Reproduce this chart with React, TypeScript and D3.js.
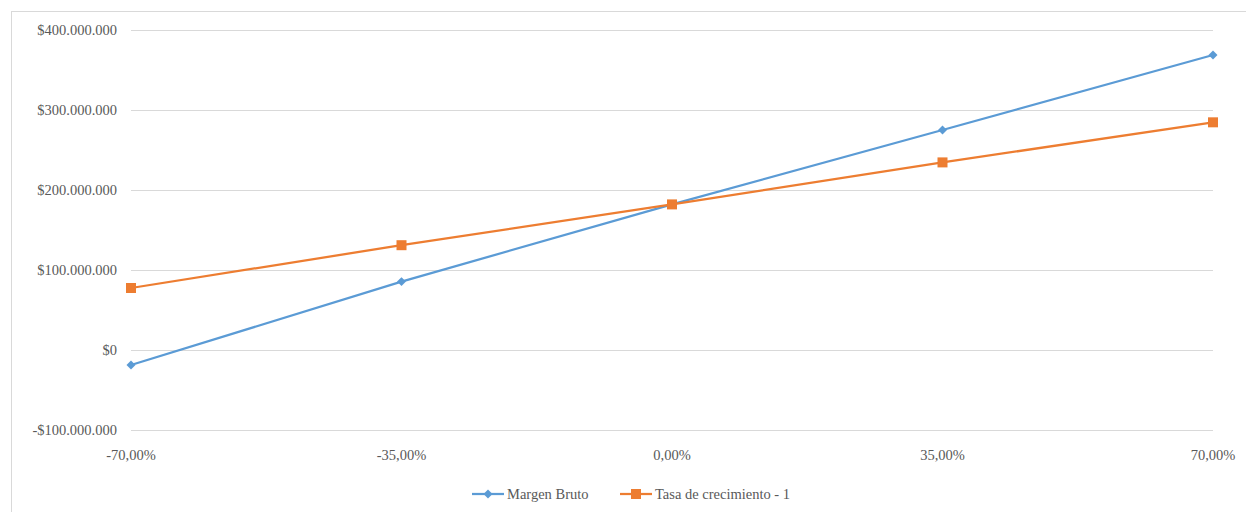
import * as d3 from 'd3';
import { useEffect, useRef } from 'react';

const categories = ['-70,00%', '-35,00%', '0,00%', '35,00%', '70,00%'];
const margenBruto = [-18.8e6, 85.5e6, 182e6, 275e6, 368.8e6];
const tasaCrecimiento = [77.5e6, 131e6, 182e6, 234.5e6, 284.6e6];
const yTicks = [-100e6, 0, 100e6, 200e6, 300e6, 400e6];
const seriesNames = ['Margen Bruto', 'Tasa de crecimiento  - 1'];

const fmtMoney = (v: number) => {
    const s = d3.format(',.0f')(Math.abs(v)).replace(/,/g, '.');
    return (v < 0 ? '-$' : '$') + s;
};

export default function App() {
    const ref = useRef<SVGSVGElement | null>(null);

    useEffect(() => {
        const svg = d3.select(ref.current);
        svg.selectAll('*').remove();

        const width = 1246;
        const height = 512;
        const font = "'Liberation Serif', 'Times New Roman', 'DejaVu Serif', serif";
        const textColor = '#595959';

        svg.attr('width', width).attr('height', height)
            .style('font-family', font);

        // outer chart frame
        svg.append('rect')
            .attr('x', 11.5).attr('y', 11.5)
            .attr('width', 1300).attr('height', 600)
            .attr('fill', '#fff')
            .attr('stroke', '#d9d9d9');

        const x = d3.scalePoint<string>()
            .domain(categories)
            .range([131, 1213]);

        const y = d3.scaleLinear()
            .domain([-100e6, 400e6])
            .range([430, 30]);

        // gridlines
        svg.append('g')
            .selectAll('line')
            .data(yTicks)
            .enter()
            .append('line')
            .attr('x1', 131).attr('x2', 1213)
            .attr('y1', d => Math.round(y(d)) + 0.5)
            .attr('y2', d => Math.round(y(d)) + 0.5)
            .attr('stroke', '#d9d9d9');

        // y labels
        svg.append('g')
            .selectAll('text')
            .data(yTicks)
            .enter()
            .append('text')
            .attr('x', 117)
            .attr('y', d => y(d))
            .attr('dy', '0.35em')
            .attr('text-anchor', 'end')
            .style('font-family', font)
            .style('font-size', '14.5px')
            .attr('fill', textColor)
            .text(d => fmtMoney(d));

        // x labels
        svg.append('g')
            .selectAll('text')
            .data(categories)
            .enter()
            .append('text')
            .attr('x', d => x(d)!)
            .attr('y', 455)
            .attr('dy', '0.35em')
            .attr('text-anchor', 'middle')
            .style('font-family', font)
            .style('font-size', '14.5px')
            .attr('fill', textColor)
            .text(d => d);

        const series = [
            { name: seriesNames[0], values: margenBruto, color: '#5b9bd5', marker: 'diamond' },
            { name: seriesNames[1], values: tasaCrecimiento, color: '#ed7d31', marker: 'square' },
        ];

        const line = d3.line<number>()
            .x((_, i) => x(categories[i])!)
            .y(d => y(d));

        const diamond = d3.symbol().type(d3.symbolSquare).size(40);
        const square = d3.symbol().type(d3.symbolSquare).size(100);
        const markerPath = (m: string) => (m === 'diamond' ? diamond()! : square()!);
        const markerRot = (m: string) => (m === 'diamond' ? ' rotate(45)' : '');

        series.forEach(s => {
            svg.append('path')
                .datum(s.values)
                .attr('d', line)
                .attr('fill', 'none')
                .attr('stroke', s.color)
                .attr('stroke-width', 2.25)
                .attr('stroke-linecap', 'round');

            svg.append('g')
                .selectAll('path')
                .data(s.values)
                .enter()
                .append('path')
                .attr('transform', (d, i) => `translate(${x(categories[i])},${y(d)})${markerRot(s.marker)}`)
                .attr('d', markerPath(s.marker))
                .attr('fill', s.color);
        });

        // legend
        const legendX = [472, 620];
        series.forEach((s, i) => {
            const g = svg.append('g').attr('transform', `translate(${legendX[i]},494)`);
            g.append('line')
                .attr('x1', 0).attr('x2', 32)
                .attr('y1', 0).attr('y2', 0)
                .attr('stroke', s.color)
                .attr('stroke-width', 2.25);
            g.append('path')
                .attr('transform', `translate(16,0)${markerRot(s.marker)}`)
                .attr('d', markerPath(s.marker))
                .attr('fill', s.color);
            g.append('text')
                .attr('x', 35)
                .attr('y', 0)
                .attr('dy', '0.35em')
                .style('font-family', font)
                .style('font-size', '14.5px')
                .attr('fill', textColor)
                .text(s.name);
        });
    }, []);

    return (
        <svg
            ref={ref}
            style={{ position: 'absolute', left: 0, top: 0, display: 'block' }}
        ></svg>
    );
}
